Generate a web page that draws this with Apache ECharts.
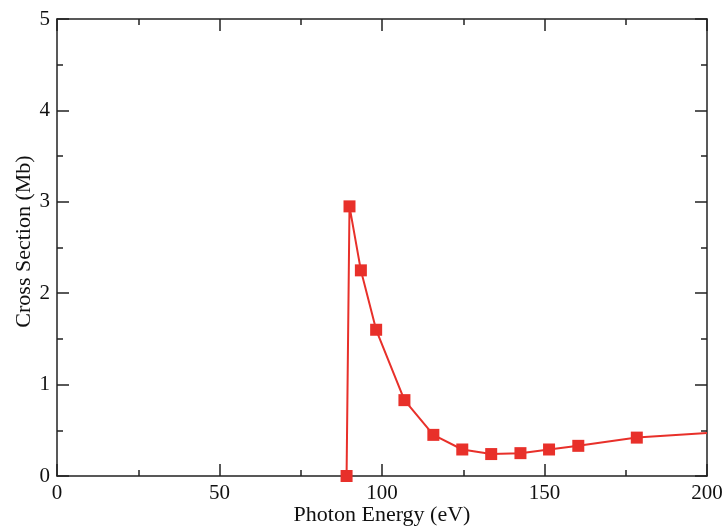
<!DOCTYPE html>
<html>
<head>
<meta charset="utf-8">
<script src="https://cdn.jsdelivr.net/npm/echarts@6/dist/echarts.min.js"></script>
<style>html,body{margin:0;padding:0;background:#fff}#c{width:727px;height:527px}</style>
</head>
<body>
<div id="c"></div>
<script>
// Data
var energy = [89.1, 90.0, 93.5, 98.2, 106.9, 115.8, 124.7, 133.6, 142.6, 151.4, 160.4, 178.4, 200];
var crossSection = [0, 2.95, 2.25, 1.60, 0.83, 0.45, 0.29, 0.24, 0.25, 0.29, 0.33, 0.42, 0.47];
var marked = [true, true, true, true, true, true, true, true, true, true, true, true, false];
var xTitle = 'Photon Energy (eV)';
var yTitle = 'Cross Section (Mb)';

var linePts = energy.map(function (e, i) { return [e, crossSection[i]]; });
var markPts = linePts.filter(function (p, i) { return marked[i]; });

var font = 'Liberation Serif';
var axisCol = '#222';
var red = '#e8302a';

function xAx(show, pos) {
  return {
    type: 'value', min: 0, max: 200, interval: 50, position: pos,
    axisLine: { show: true, onZero: false, lineStyle: { color: axisCol, width: 1.5 } },
    axisTick: { show: true, inside: true, length: 12, lineStyle: { color: axisCol, width: 1.5 } },
    minorTick: { show: true, splitNumber: 2, length: 6, lineStyle: { color: axisCol, width: 1.5 } },
    splitLine: { show: false },
    axisLabel: { show: show, fontFamily: font, fontSize: 21, color: '#111', margin: 7 },
    name: show ? xTitle : '', nameLocation: 'middle', nameGap: 28, nameMoveOverlap: false,
    nameTextStyle: { fontFamily: font, fontSize: 22, color: '#111' }
  };
}
function yAx(show, pos) {
  return {
    type: 'value', min: 0, max: 5, interval: 1, position: pos,
    axisLine: { show: true, onZero: false, lineStyle: { color: axisCol, width: 1.5 } },
    axisTick: { show: true, inside: true, length: 12, lineStyle: { color: axisCol, width: 1.5 } },
    minorTick: { show: true, splitNumber: 2, length: 6, lineStyle: { color: axisCol, width: 1.5 } },
    splitLine: { show: false },
    axisLabel: { show: show, fontFamily: font, fontSize: 21, color: '#111', margin: 7 },
    name: show ? yTitle : '', nameLocation: 'middle', nameGap: 22, nameRotate: 90, nameMoveOverlap: false,
    nameTextStyle: { fontFamily: font, fontSize: 22, color: '#111', padding: [0, 0, 0, 12] }
  };
}

var chart = echarts.init(document.getElementById('c'), null, { renderer: 'canvas' });
chart.setOption({
  animation: false,
  backgroundColor: '#fff',
  grid: { left: 57, right: 20, top: 19, bottom: 51, containLabel: false, outerBoundsMode: 'none' },
  xAxis: [xAx(true, 'bottom'), xAx(false, 'top')],
  yAxis: [yAx(true, 'left'), yAx(false, 'right')],
  series: [
    {
      type: 'line', data: linePts, xAxisIndex: 0, yAxisIndex: 0,
      showSymbol: false, symbol: 'none',
      lineStyle: { color: red, width: 2 }
    },
    {
      type: 'scatter', data: markPts, xAxisIndex: 0, yAxisIndex: 0,
      symbol: 'rect', symbolSize: 12,
      itemStyle: { color: red, opacity: 1 }
    }
  ]
});
</script>
</body>
</html>
